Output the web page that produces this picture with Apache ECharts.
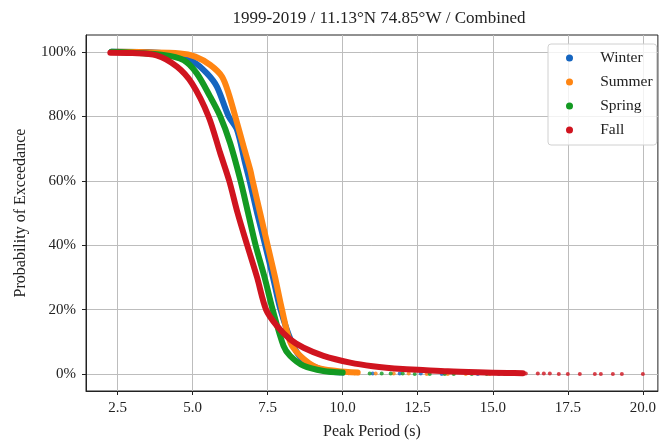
<!DOCTYPE html>
<html>
<head>
<meta charset="utf-8">
<script src="https://cdn.jsdelivr.net/npm/echarts@6/dist/echarts.min.js"></script>
<style>
  html, body { margin: 0; padding: 0; background: #fff; }
  #main { width: 659px; height: 445px; }
</style>
</head>
<body>
<div id="main"></div>
<script>
// exceedance curves, [peak period (s), probability %]
var winterCurve = [
    [2.3, 100], [3.5, 99.9], [4.37, 99], [5.03, 96.9], [5.48, 93.3], [5.81, 89.2],
    [6.2, 80], [6.48, 75.8], [6.75, 65.5], [6.9, 60], [7.15, 50], [7.42, 40],
    [7.68, 30], [7.93, 20], [8.3, 10], [8.6, 5.2], [9.0, 2.6], [9.5, 1], [10.0, 0.5]
];
var summerCurve = [
    [2.5, 100], [4.59, 99.5], [5.09, 98.5], [5.59, 95.9], [5.98, 92.3], [6.2, 87.1],
    [6.42, 80], [6.7, 70.6], [6.92, 63.4], [7.0, 60], [7.25, 50], [7.5, 40],
    [7.75, 30], [7.98, 20], [8.25, 10], [8.59, 5.7], [9.14, 2.1], [9.8, 1], [10.5, 0.5]
];
var springCurve = [
    [2.3, 100], [4.03, 99], [4.7, 97.4], [5.14, 93.3], [5.59, 86], [5.92, 80],
    [6.25, 71.7], [6.59, 60.3], [6.85, 50], [7.1, 40], [7.4, 30], [7.67, 20],
    [8.03, 8.8], [8.25, 5.7], [8.7, 2.6], [9.36, 1], [10.0, 0.5]
];
var fallCurve = [
    [2.26, 99.7], [3.0, 99.6], [3.8, 98.9], [4.48, 95.4], [4.98, 90.2], [5.53, 80],
    [5.92, 68.6], [6.22, 60], [6.5, 50], [6.82, 40], [7.15, 30], [7.45, 20],
    [7.81, 15], [8.25, 10.8], [8.7, 8.2], [9.36, 5.7], [10.25, 3.6], [11.0, 2.5],
    [12.0, 1.6], [12.5, 1.4], [13.5, 0.9], [14.5, 0.6], [15.5, 0.4], [16.0, 0.3]
];

// sparse points of the tails
var winterTail = [[10.2, 0.3], [11.0, 0.2], [11.9, 0.2], [12.6, 0.2], [13.3, 0.1], [14.5, 0.1], [15.2, 0.1]];
var summerTail = [[9.9, 0.3], [10.5, 0.3], [11.1, 0.2], [11.7, 0.2], [12.2, 0.2], [12.8, 0.1], [13.5, 0.1], [14.1, 0.1], [14.9, 0.1], [15.6, 0.1]];
var springTail = [[10.0, 0.3], [10.4, 0.3], [10.9, 0.2], [11.3, 0.2], [11.6, 0.2], [12.0, 0.2], [12.4, 0.1], [12.9, 0.1], [13.4, 0.1], [13.7, 0.1], [14.3, 0.1], [14.8, 0.1], [15.4, 0.1], [15.8, 0.1]];
var fallTail = [[16.1, 0.2], [16.5, 0.2], [16.7, 0.2], [16.9, 0.2], [17.2, 0.1], [17.5, 0.1], [17.9, 0.1], [18.4, 0.1], [18.6, 0.1], [19.0, 0.1], [19.3, 0.1], [20.0, 0.1]];

var seasons = ['Winter', 'Summer', 'Spring', 'Fall'];
var colors = ['#1565c0', '#ff8512', '#139a22', '#d0141f'];
var xTicks = [2.5, 5, 7.5, 10, 12.5, 15, 17.5, 20];
var yTicks = [0, 20, 40, 60, 80, 100];

var curves = [winterCurve, summerCurve, springCurve, fallCurve];
var tails = [winterTail, summerTail, springTail, fallTail];

var font = 'Liberation Serif';
var series = [];
seasons.forEach(function (name, i) {
    series.push({
        name: name,
        type: 'line',
        data: curves[i],
        showSymbol: false,
        symbol: 'circle',
        smooth: 0.3,
        color: colors[i],
        lineStyle: { width: 6, color: colors[i], cap: 'round', join: 'round' },
        silent: true
    });
    series.push({
        name: name,
        type: 'scatter',
        data: tails[i],
        symbol: 'circle',
        symbolSize: 4,
        itemStyle: { color: colors[i] },
        silent: true
    });
});

var chart = echarts.init(document.getElementById('main'));
var option = {
    animation: false,
    color: colors,
    title: {
        text: '1999-2019 / 11.13°N 74.85°W / Combined',
        left: 374,
        textAlign: 'center',
        top: 5,
        textStyle: { fontFamily: font, fontSize: 17, fontWeight: 'normal', color: '#222' }
    },
    legend: {
        data: seasons,
        orient: 'vertical',
        left: 548,
        top: 44,
        icon: 'circle',
        itemWidth: 28,
        itemHeight: 7,
        itemGap: 8,
        padding: [6, 4, 7, 18],
        borderColor: '#d0d0d0',
        borderWidth: 1,
        borderRadius: 3,
        backgroundColor: 'rgba(255,255,255,0.8)',
        formatter: function (name) { return '   ' + name; },
        textStyle: { fontFamily: font, fontSize: 15.5, color: '#222', lineHeight: 16 }
    },
    grid: {
        left: 86,
        right: 1,
        top: 35,
        bottom: 53,
        show: true,
        borderColor: '#222',
        borderWidth: 1,
        containLabel: false
    },
    xAxis: {
        type: 'value',
        min: 1.45,
        max: 20.5,
        name: 'Peak Period (s)',
        nameLocation: 'middle',
        nameGap: 33,
        nameTextStyle: { fontFamily: font, fontSize: 16, color: '#222' },
        axisLine: { show: true, onZero: false, lineStyle: { color: '#222' } },
        axisTick: { show: true, length: 4, customValues: xTicks, lineStyle: { color: '#222' } },
        axisLabel: {
            customValues: xTicks,
            margin: 10,
            fontFamily: font,
            fontSize: 15,
            color: '#222',
            formatter: function (v) { return v.toFixed(1); }
        },
        splitLine: { show: true, lineStyle: { color: '#bdbdbd', width: 1 } }
    },
    yAxis: {
        type: 'value',
        min: -5.2,
        max: 105.2,
        name: 'Probability of Exceedance',
        nameLocation: 'middle',
        nameGap: 57,
        nameTextStyle: { fontFamily: font, fontSize: 16, color: '#222' },
        axisLine: { show: true, onZero: false, lineStyle: { color: '#222' } },
        axisTick: { show: true, length: 4, customValues: yTicks, lineStyle: { color: '#222' } },
        axisLabel: {
            customValues: yTicks,
            margin: 10,
            fontFamily: font,
            fontSize: 15,
            color: '#222',
            formatter: '{value}%'
        },
        splitLine: { show: true, lineStyle: { color: '#bdbdbd', width: 1 } }
    },
    series: series
};
chart.setOption(option);
</script>
</body>
</html>
